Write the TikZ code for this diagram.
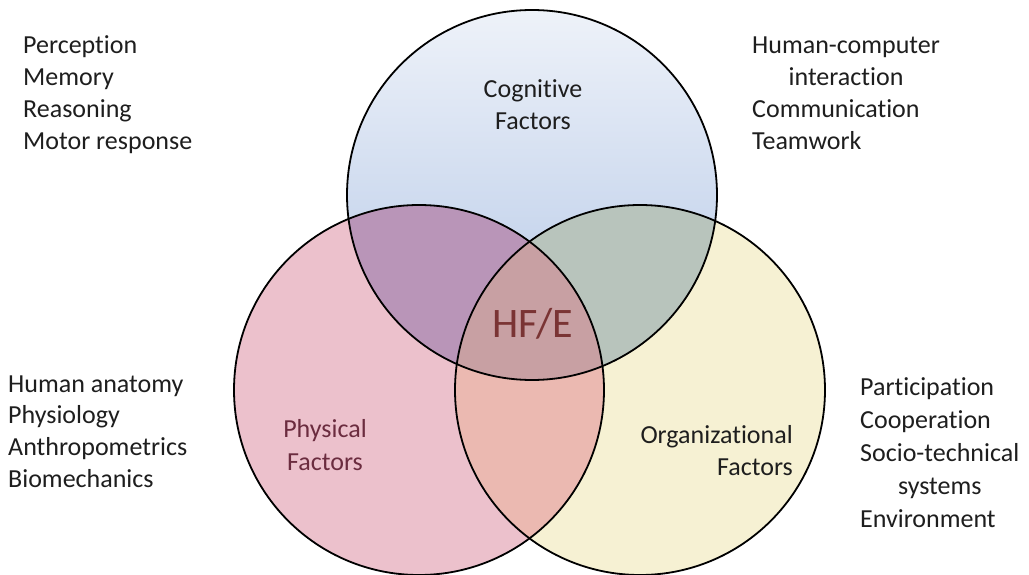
\documentclass[tikz,border=0pt]{standalone}
\usepackage{fontspec}
\setmainfont{Carlito}[Ligatures={NoCommon}]
\definecolor{cogtop}{HTML}{EEF2F9}
\definecolor{cogbot}{HTML}{B2C6E6}
\definecolor{phys}{HTML}{ECC1CC}
\definecolor{org}{HTML}{F6F1D3}
\definecolor{cogphys}{HTML}{B995B8}
\definecolor{cogorg}{HTML}{B8C4BC}
\definecolor{physorg}{HTML}{EBB9B1}
\definecolor{allthree}{HTML}{C8A0A3}
\definecolor{txt}{HTML}{1E1E1E}
\definecolor{maroon}{HTML}{6B2C3F}
\definecolor{hfe}{HTML}{7A3434}
\tikzset{
  ring/.style={draw=black, line width=1.8pt},
  side/.style={font=\fontsize{26}{31}\selectfont, text=txt, inner sep=0pt},
  lab/.style={font=\fontsize{26}{31}\selectfont, inner sep=0pt},
}
\begin{document}
\begin{tikzpicture}[x=1pt,y=-1pt]
\useasboundingbox (0,0) rectangle (1029,575);
\fill[white] (0,0) rectangle (1029,575);
\def\R{185pt}
\coordinate (C) at (532,195);
\coordinate (P) at (419,390);
\coordinate (O) at (640,390);
% base fills
\fill[org] (O) circle[radius=\R];
\fill[phys] (P) circle[radius=\R];
\shade[top color=cogtop, bottom color=cogbot] (C) circle[radius=\R];
% overlaps
\begin{scope}
  \clip (P) circle[radius=\R];
  \fill[physorg] (O) circle[radius=\R];
\end{scope}
\begin{scope}
  \clip (C) circle[radius=\R];
  \fill[cogphys] (P) circle[radius=\R];
  \fill[cogorg] (O) circle[radius=\R];
\end{scope}
\begin{scope}
  \clip (C) circle[radius=\R];
  \clip (P) circle[radius=\R];
  \fill[allthree] (O) circle[radius=\R];
\end{scope}
% outlines
\draw[ring] (C) circle[radius=\R];
\draw[ring] (P) circle[radius=\R];
\draw[ring] (O) circle[radius=\R];
% circle labels
\node[lab, text=txt, anchor=base] (cog1) at (533,98) {Cognitive};
\node[lab, text=txt, anchor=base] (cog2) at (533,130) {Factors};
\node[lab, text=maroon, anchor=base] (phy1) at (325,437) {Physical};
\node[lab, text=maroon, anchor=base] (phy2) at (325,470) {Factors};
\node[lab, text=txt, anchor=base east] (org1) at (793,443) {Organizational};
\node[lab, text=txt, anchor=base east] (org2) at (793,475) {Factors};
\node[font=\fontsize{42}{48}\selectfont, text=hfe, inner sep=0pt, anchor=base] (hfe) at (533,337) {HF/E};
% top left
\node[side, anchor=base west] (tl1) at (23,54) {Perception};
\node[side, anchor=base west] (tl2) at (23,85.7) {Memory};
\node[side, anchor=base west] (tl3) at (23,117.4) {Reasoning};
\node[side, anchor=base west] (tl4) at (23,149.1) {Motor response};
% top right
\node[side, anchor=base west] (tr1) at (752,54) {Human-computer};
\node[side, anchor=base] (tr2) at (tr1.base |- 0,85.7) {interaction};
\node[side, anchor=base west] (tr3) at (752,117.4) {Communication};
\node[side, anchor=base west] (tr4) at (752,149.1) {Teamwork};
% bottom left
\node[side, anchor=base west] (bl1) at (8,392) {Human anatomy};
\node[side, anchor=base west] (bl2) at (8,423.7) {Physiology};
\node[side, anchor=base west] (bl3) at (8,455.4) {Anthropometrics};
\node[side, anchor=base west] (bl4) at (8,487.1) {Biomechanics};
% bottom right
\node[side, anchor=base west] (br1) at (860,395) {Participation};
\node[side, anchor=base west] (br2) at (860,428) {Cooperation};
\node[side, anchor=base west] (br3) at (860,461) {Socio-technical};
\node[side, anchor=base] (br4) at (br3.base |- 0,494) {systems};
\node[side, anchor=base west] (br5) at (860,527) {Environment};
\end{tikzpicture}
\end{document}
